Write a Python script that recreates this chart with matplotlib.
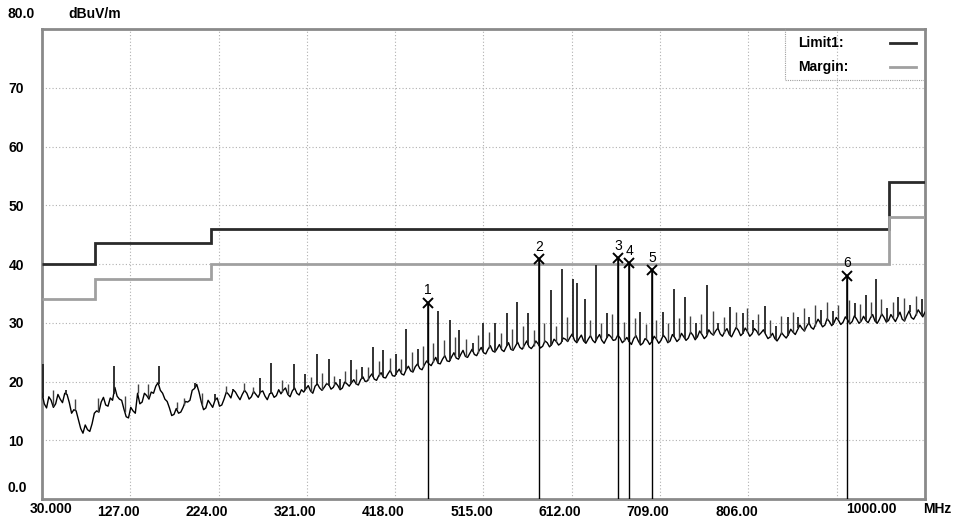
import numpy as np
import matplotlib
matplotlib.use("Agg")
import matplotlib.pyplot as plt
from matplotlib.transforms import ScaledTranslation

FONT = ['Liberation Sans Narrow', 'Liberation Sans', 'DejaVu Sans']
plt.rcParams['font.family'] = FONT

# ---------------- data ----------------
x_tick_values = [127, 224, 321, 418, 515, 612, 709, 806]
x_tick_labels = ["127.00", "224.00", "321.00", "418.00", "515.00", "612.00", "709.00", "806.00"]
y_tick_values = [10, 20, 30, 40, 50, 60, 70]
y_tick_labels = ["10", "20", "30", "40", "50", "60", "70"]

limit_edges = [30, 88, 216, 960, 1000]
limit_values = [40.0, 43.5, 46.0, 54.0]
margin_values = [34.0, 37.5, 40.0, 48.0]

# noise-floor trace, read every 5 MHz from 30 to 1000 MHz
baseline_values = [
    18.0, 15.5, 16.8, 16.2, 17.0, 18.0, 16.4, 15.2, 13.5, 11.2,
    11.8, 12.8, 15.0, 16.5, 16.0, 17.2, 19.0, 17.0, 15.3, 13.8,
    15.0, 18.0, 16.5, 17.6, 18.2, 19.2, 18.5, 17.0, 15.5, 14.4,
    14.6, 15.6, 16.5, 18.5, 19.5, 16.5, 15.5, 16.2, 16.8, 15.8,
    17.0, 17.8, 18.6, 17.5, 17.8, 18.0, 17.4, 17.8, 18.2, 17.5,
    17.9, 17.3, 18.6, 18.5, 17.8, 18.4, 18.0, 18.6, 18.8, 18.4,
    19.2, 18.9, 19.0, 19.5, 19.0, 19.3, 18.9, 19.6, 19.8, 19.6,
    20.3, 20.0, 20.8, 20.4, 21.0, 20.7, 21.3, 21.0, 21.6, 21.3,
    22.0, 21.8, 22.5, 22.2, 22.8, 23.0, 23.4, 23.1, 23.8, 23.5,
    24.2, 24.0, 24.6, 24.3, 24.8, 24.6, 25.2, 24.9, 25.5, 25.2,
    25.6, 25.4, 25.9, 25.5, 26.0, 25.8, 26.2, 25.9, 26.1, 26.4,
    26.0, 26.6, 26.3, 26.8, 26.5, 27.2, 27.5, 27.0, 27.3, 26.9,
    27.2, 27.0, 27.4, 27.0, 27.3, 27.6, 27.1, 27.4, 27.0, 26.8,
    27.3, 26.9, 26.5, 27.0, 26.8, 27.2, 27.0, 27.4, 26.9, 27.5,
    27.2, 27.6, 27.4, 27.9, 27.6, 28.0, 27.7, 28.2, 28.6, 28.1,
    28.5, 28.0, 28.4, 28.7, 28.2, 28.5, 28.1, 28.6, 28.3, 28.0,
    27.6, 27.3, 27.5, 27.8, 28.0, 28.4, 28.8, 29.0, 29.4, 29.2,
    29.8, 30.0, 29.6, 30.2, 30.0, 30.4, 30.1, 30.5, 30.2, 30.6,
    30.3, 30.4, 30.8, 30.3, 30.6, 30.9, 30.4, 30.8, 31.0, 30.6,
    31.2, 30.9, 31.3, 31.6, 31.8,
]
# in-between readings (32.5, 37.5, ... 997.5 MHz)
mid_values = [
    16.2, 17.4, 15.6, 17.8, 16.4, 17.8, 14.6, 15.0, 12.0, 12.6,
    11.5, 14.6, 14.8, 17.3, 15.8, 16.8, 17.5, 16.8, 14.0, 15.6,
    14.6, 16.2, 18.0, 17.0, 18.0, 19.8, 18.0, 16.6, 14.2, 15.4,
    14.8, 16.6, 16.8, 18.8, 18.2, 15.2, 16.8, 15.6, 17.2, 16.0,
    18.2, 17.2, 18.2, 16.9, 18.5, 17.0, 18.3, 17.3, 18.4, 16.9,
    18.1, 17.6, 17.9, 18.9, 17.4, 18.9, 17.7, 18.2, 19.3, 18.0,
    19.6, 18.5, 19.6, 18.7, 19.8, 18.6, 19.9, 19.2, 20.3, 19.4,
    20.8, 20.1, 21.3, 20.2, 21.5, 20.6, 21.9, 20.9, 22.1, 21.1,
    22.6, 21.6, 23.0, 22.0, 23.5, 22.7, 24.1, 23.0, 24.4, 23.4,
    24.9, 23.8, 25.3, 24.1, 25.5, 24.4, 25.8, 24.7, 26.1, 25.0,
    26.3, 25.1, 26.6, 25.3, 26.7, 25.5, 26.9, 25.6, 26.9, 25.7,
    26.9, 25.9, 27.2, 26.2, 27.4, 26.8, 28.1, 26.6, 27.9, 26.5,
    27.8, 26.6, 28.0, 26.5, 28.0, 27.0, 27.9, 26.6, 27.5, 26.3,
    27.8, 26.2, 27.3, 26.3, 27.7, 26.5, 27.9, 26.6, 28.0, 26.8,
    28.2, 27.0, 28.4, 27.1, 28.6, 27.3, 28.8, 27.9, 29.1, 27.7,
    29.0, 27.6, 29.2, 27.8, 29.1, 27.7, 29.0, 27.9, 28.8, 27.3,
    28.2, 26.9, 28.3, 27.4, 28.9, 28.0, 29.6, 28.6, 30.0, 28.9,
    30.6, 29.3, 30.7, 29.5, 30.9, 29.7, 31.0, 29.8, 31.2, 29.9,
    31.1, 30.0, 31.4, 29.9, 31.5, 30.1, 31.4, 30.2, 31.8, 30.3,
    32.0, 30.6, 32.2, 31.0,
]

spike_freqs = [
    31, 56, 108.7, 158, 198, 220, 240, 269.5, 281.6, 307, 319, 332.4, 345.6,
    357, 369, 381, 394, 405, 418.4, 430, 443.3, 454, 465.3, 478, 488.4,
    503.7, 514.7, 527.5, 540.3, 552.1, 564.2, 576, 588.7, 600.8, 613.6, 618,
    626.4, 638.5, 650.2, 663, 675, 686.8, 700, 711.8, 724.3, 736.3, 748,
    760.9, 773, 785.7, 799.6, 811.4, 824.2, 836, 849, 860.9, 873, 885.7,
    898.5, 914, 923, 935, 946, 958, 970.7, 983, 996.3,
]
spike_levels = [
    23.0, 18.5, 22.7, 22.7, 19.8, 17.9, 18.8, 20.6, 23.2, 23.0, 21.3, 24.7, 23.9,
    20.5, 23.7, 22.5, 25.8, 25.3, 24.7, 29.0, 25.6, 33.4, 32.0, 30.4, 28.7,
    26.5, 30.0, 29.9, 31.6, 33.6, 31.6, 40.8, 35.5, 39.2, 37.5, 36.7,
    34.1, 39.8, 31.6, 41.0, 40.2, 31.8, 38.9, 31.8, 35.8, 34.3, 30.0,
    36.5, 30.0, 32.6, 31.6, 30.5, 32.8, 29.5, 31.0, 30.9, 31.0, 32.2,
    32.0, 38.0, 33.4, 34.8, 37.4, 32.5, 34.3, 33.0, 34.1,
]
minor_freqs = [
    42, 66, 92, 121, 135, 146, 178, 186, 206, 232, 252, 262, 294, 300, 326,
    338, 351, 363, 375, 388, 400, 412, 424, 436, 449, 460, 472, 484, 496, 509,
    521, 534, 546, 558, 570, 582, 595, 607, 632, 644, 656, 669, 681, 693, 705,
    718, 730, 742, 754, 767, 779, 792, 805, 817, 830, 842, 855, 867, 879, 892,
    904, 917, 929, 941, 952, 965, 977, 990,
]
minor_levels = [
    18.5, 17.0, 17.2, 17.5, 19.5, 19.6, 16.5, 17.2, 18.0, 19.2, 19.8, 19.0, 20.2, 19.6, 20.8,
    21.5, 21.0, 21.8, 22.2, 22.4, 23.5, 24.0, 23.8, 25.0, 26.0, 26.5, 27.0, 27.5, 27.2, 28.0,
    28.5, 28.2, 29.0, 29.5, 28.8, 30.0, 29.5, 31.0, 30.5, 30.0, 31.5, 30.2, 30.8, 29.8, 30.5,
    30.0, 30.8, 31.2, 31.5, 32.0, 31.0, 31.8, 32.5, 31.5, 30.5, 31.2, 31.8, 32.5, 33.0, 33.5,
    33.0, 33.8, 33.2, 33.5, 34.0, 33.6, 34.2, 34.5,
]

marker_ids = ["1", "2", "3", "4", "5", "6"]
marker_freqs = [454, 576, 663, 675, 700, 914]
marker_levels = [33.4, 40.8, 41.0, 40.1, 38.9, 38.0]

# ---------------- figure ----------------
W, H = 954, 520
fig = plt.figure(figsize=(W / 100, H / 100), dpi=100)
ax = fig.add_axes([42 / W, 1 - 499 / H, 883 / W, 470 / H])
ax.set_xlim(30, 1000)
ax.set_ylim(0, 80)

grid_kw = dict(color='#b0b0b0', linewidth=0.8, linestyle=(0, (1, 2)), zorder=1)
for xv in x_tick_values + [903]:
    ax.axvline(xv, **grid_kw)
for yv in y_tick_values:
    ax.axhline(yv, **grid_kw)

# limit and margin
ax.stairs(limit_values, limit_edges, baseline=None, color='#2a2a2a', linewidth=2.0, zorder=3)
ax.stairs(margin_values, limit_edges, baseline=None, color='#a0a0a0', linewidth=2.0, zorder=3)

# trace
bfreq = np.linspace(30, 1000, len(baseline_values))
mfreq = np.linspace(32.5, 997.5, len(mid_values))
tf = np.concatenate([bfreq, mfreq])
tv = np.concatenate([baseline_values, mid_values])
order = np.argsort(tf)
tf, tv = tf[order], tv[order]
ax.plot(tf, tv, color='black', linewidth=1.0, zorder=4)
mbase = np.interp(minor_freqs, tf, tv)
ax.vlines(minor_freqs, mbase, minor_levels, color='#444444', linewidth=1.0, zorder=4)
sbase = np.interp(spike_freqs, tf, tv)
ax.vlines(spike_freqs, sbase, spike_levels, color='#222222', linewidth=1.3, zorder=4)

# markers
ax.vlines(marker_freqs, 0, marker_levels, color='black', linewidth=1.0, zorder=5)
ax.plot(marker_freqs, marker_levels, linestyle='none', marker='x', markersize=7,
        markeredgewidth=1.4, color='black', zorder=6)
for mid, mf, ml in zip(marker_ids, marker_freqs, marker_levels):
    ax.annotate(mid, (mf, ml), xytext=(0, 4), textcoords='offset points',
                ha='center', va='bottom', fontsize=10, color='black', zorder=6)

# frame
for s in ax.spines.values():
    s.set_color('#8a8a8a')
    s.set_linewidth(2.0)

ax.set_xticks(x_tick_values)
ax.set_xticklabels(x_tick_labels)
ax.set_yticks(y_tick_values)
ax.set_yticklabels(y_tick_labels)
ax.tick_params(length=0, labelsize=10)
ax.tick_params(axis='y', pad=13)
ax.tick_params(axis='x', pad=4)
for lab in ax.get_xticklabels() + ax.get_yticklabels():
    lab.set_fontweight('bold')
off = ScaledTranslation(-12 / 100, 0, fig.dpi_scale_trans)
for lab in ax.get_xticklabels():
    lab.set_transform(lab.get_transform() + off)

tk = dict(fontsize=10, fontweight='bold', color='black')
fig.text(30 / W, 1 - 509 / H, "30.000", ha='left', va='center', **tk)
fig.text(897 / W, 1 - 509 / H, "1000.00", ha='right', va='center', **tk)
fig.text(951 / W, 1 - 509 / H, "MHz", ha='right', va='center', **tk)
fig.text(8 / W, 1 - 14 / H, "80.0", ha='left', va='center', **tk)
fig.text(68 / W, 1 - 14 / H, "dBuV/m", ha='left', va='center', **tk)
fig.text(8 / W, 1 - 488 / H, "0.0", ha='left', va='center', **tk)

# legend box
x0 = (785 - 42) / 883
y0 = 1 - (80 - 29) / 470
ax.plot([x0, x0, 1], [1, y0, y0], transform=ax.transAxes, color='#a0a0a0',
        linewidth=0.8, linestyle=(0, (1, 1)), zorder=7, clip_on=False)
ax.text((798 - 42) / 883, 1 - (43 - 29) / 470, "Limit1:", transform=ax.transAxes,
        ha='left', va='center', fontsize=10, fontweight='bold', zorder=8)
ax.text((798 - 42) / 883, 1 - (67 - 29) / 470, "Margin:", transform=ax.transAxes,
        ha='left', va='center', fontsize=10, fontweight='bold', zorder=8)
ax.plot([(890 - 42) / 883, (916 - 42) / 883], [1 - (43 - 29) / 470] * 2,
        transform=ax.transAxes, color='#2a2a2a', linewidth=2.0, zorder=8)
ax.plot([(890 - 42) / 883, (916 - 42) / 883], [1 - (67 - 29) / 470] * 2,
        transform=ax.transAxes, color='#a0a0a0', linewidth=2.0, zorder=8)

fig.savefig("out.png", dpi=100, facecolor='white')
